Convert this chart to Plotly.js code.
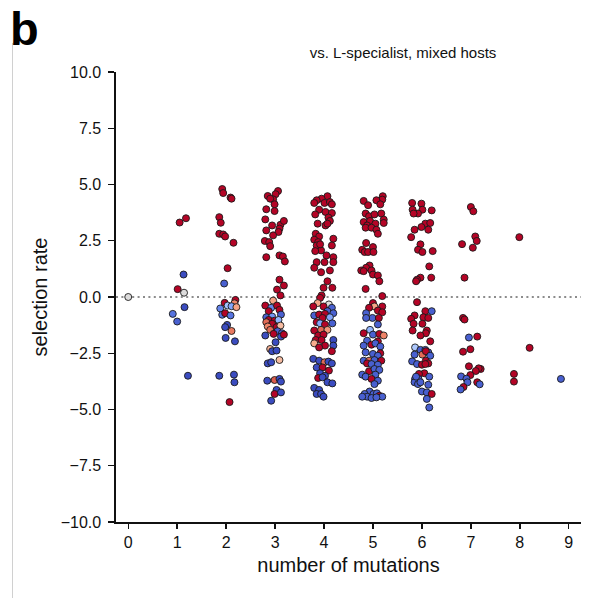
<!DOCTYPE html>
<html>
<head>
<meta charset="utf-8">
<script src="https://cdn.plot.ly/plotly-3.0.1.min.js"></script>
<style>html,body{margin:0;padding:0;background:#fff;}#chart{width:592px;height:598px;}</style>
</head>
<body>
<div id="chart"></div>
<script>
// Each point: [number of mutations (jittered as plotted), selection rate, colour value 0 (blue) .. 1 (red)]
const mut0 = [[0.00,0.00,0.5]];
const mut1 = [[1.05,3.31,1],[1.18,3.50,1],[1.13,1.00,0],[1.01,0.35,1],[1.14,0.19,0.5],[1.15,-0.45,0],[0.91,-0.75,0.1],[1.00,-1.09,0.05],[1.22,-3.50,0]];
const mut2 = [[1.92,4.80,1],[1.94,4.62,1],[2.09,4.42,1],[2.11,4.37,1],[1.86,3.55,1],[1.89,3.30,1],[1.86,2.81,1],[1.94,2.78,1],[1.98,2.69,1],[2.15,2.41,1],[2.03,1.28,1],[1.96,0.60,0.05],[2.19,-0.13,1],[1.97,-0.26,1],[2.17,-0.28,0.8],[2.03,-0.38,0.35],[2.11,-0.41,0.25],[2.21,-0.45,0.72],[1.88,-0.51,0.15],[1.92,-0.79,0.1],[1.98,-0.72,1],[2.09,-0.82,0.1],[2.02,-1.24,0],[1.98,-1.34,0],[2.11,-1.51,0.82],[1.99,-1.82,0],[2.18,-1.97,0],[1.86,-3.50,0],[2.16,-3.45,0],[2.17,-3.79,0],[2.07,-4.67,1]];
const mut3 = [[3.06,4.71,1],[3.01,4.57,1],[2.96,4.34,1],[2.85,4.49,1],[2.90,4.37,1],[2.99,4.12,1],[2.82,3.90,1],[2.99,3.82,1],[2.80,3.45,1],[2.94,3.18,1],[3.11,3.21,1],[3.18,3.38,1],[3.09,3.04,1],[3.07,2.89,1],[2.82,2.96,1],[2.96,2.74,1],[2.79,2.49,1],[2.88,2.44,1],[2.90,2.26,1],[2.82,1.77,1],[3.09,1.85,1],[3.16,1.80,1],[3.20,1.58,1],
  [3.09,0.77,1],[3.18,0.51,1],[3.04,0.33,1],[3.11,0.07,1],[2.96,-0.16,0.72],[2.80,-0.38,1],[2.92,-0.48,0.15],[3.04,-0.38,1],[2.87,-0.63,1],[3.09,-0.57,1],[2.82,-0.90,0.05],[2.94,-0.87,0.2],[3.12,-0.78,0.05],[2.87,-1.02,1],[2.99,-1.05,1],[2.82,-1.12,0.85],[3.07,-1.02,0.3],[2.94,-1.19,1],[2.85,-1.31,0.8],[3.03,-1.34,1],[3.11,-1.27,0.65],[2.90,-1.46,0.85],[3.05,-1.52,0.05],[2.97,-1.64,1],[3.14,-1.61,0.05],[2.80,-1.71,0],[3.12,-1.76,0],[3.18,-1.67,1],[3.01,-2.01,0],[2.90,-2.31,0.68],[2.94,-2.41,0],[3.03,-2.38,0],[3.09,-2.80,0.65],[2.85,-2.95,0],[2.92,-2.90,0],[2.84,-3.72,0],[2.99,-3.69,0.88],[3.09,-3.64,0],[3.12,-3.76,0],[3.03,-4.13,0],[2.99,-4.31,1],[3.12,-4.24,0],[2.92,-4.61,0]];
const mut4 = [[4.07,4.48,1],[3.95,4.37,1],[3.85,4.30,1],[3.80,4.18,1],[4.01,4.18,1],[4.12,4.22,1],[4.16,4.12,1],[3.90,3.88,1],[4.03,3.78,1],[4.16,3.73,1],[3.82,3.67,1],[4.09,3.53,1],[4.12,3.38,1],[3.87,3.26,1],[4.03,3.18,1],[4.07,3.26,1],[3.83,2.81,1],[3.90,2.69,1],[3.80,2.55,1],[3.88,2.44,1],[3.85,2.29,1],[3.94,2.07,1],[3.82,2.04,1],[3.92,2.34,1],[4.19,2.59,1],[4.16,2.29,1],[4.05,1.85,1],[4.19,1.77,1],[4.19,1.55,1],[4.01,1.55,1],[3.85,1.55,1],[3.80,1.30,1],[3.94,1.10,1],[4.12,1.18,1],
  [4.07,0.70,1],[3.99,0.41,1],[4.17,0.41,1],[3.95,0.07,1],[3.92,-0.04,1],[4.10,-0.33,0.5],[3.87,-0.27,0.72],[3.78,-0.42,1],[3.99,-0.42,1],[4.16,-0.48,0.05],[4.07,-0.63,0.05],[3.80,-0.82,0.05],[3.90,-0.78,1],[4.02,-0.75,1],[4.19,-0.72,0.05],[3.97,-0.93,1],[4.12,-0.90,0.25],[3.85,-1.12,1],[3.92,-1.17,0.25],[4.02,-1.22,1],[4.17,-1.17,0.05],[3.80,-1.49,1],[3.94,-1.46,0.85],[4.07,-1.46,0.75],[3.88,-1.71,1],[3.99,-1.67,1],[3.83,-1.91,1],[3.95,-1.91,1],[4.19,-1.91,0],[3.80,-2.06,0.7],[4.02,-2.16,1],[4.19,-2.16,0],[3.90,-2.24,1],[4.16,-2.41,1],[3.78,-2.75,0],[3.90,-2.83,0],[4.01,-2.90,0.85],[4.09,-2.87,0],[4.16,-2.95,0],[3.85,-3.13,0],[3.97,-3.13,1],[4.10,-3.27,1],[3.92,-3.39,0],[4.02,-3.50,0],[3.88,-3.60,1],[3.97,-3.57,0],[4.07,-3.79,0],[4.17,-3.84,0],[3.80,-4.04,0],[3.90,-4.13,0],[3.85,-4.31,0],[3.94,-4.31,0],[3.99,-4.43,0]];
const mut5 = [[5.20,4.48,1],[5.19,4.33,1],[5.07,4.30,1],[4.81,4.27,1],[4.90,4.08,1],[5.15,4.12,1],[4.85,3.71,1],[4.92,3.59,1],[5.03,3.67,1],[5.17,3.71,1],[4.81,3.33,1],[4.94,3.38,1],[5.05,3.26,1],[5.22,3.44,1],[5.22,3.29,1],[4.88,3.18,1],[4.85,3.08,1],[4.97,3.08,1],[5.07,2.99,1],[5.10,2.81,1],[4.86,2.40,1],[5.00,2.22,1],[4.78,2.10,1],[4.83,2.00,1],[4.90,2.00,1],[5.01,2.00,1],[4.93,1.40,1],[4.86,1.30,1],[4.76,1.18,1],[4.81,1.15,1],[4.97,1.18,1],[5.00,1.00,1],[5.10,0.96,1],[5.13,0.70,1],[4.85,0.36,1],[5.19,0.04,1],
  [5.00,-0.27,1],[5.03,-0.42,0.72],[4.92,-0.48,1],[5.19,-0.42,1],[5.10,-0.60,1],[4.86,-0.72,0.05],[5.19,-0.68,1],[4.99,-0.93,0.05],[4.86,-0.93,0.05],[5.12,-0.93,1],[5.10,-1.22,0.05],[4.94,-1.46,0.3],[4.81,-1.61,1],[5.00,-1.67,0.05],[5.13,-1.64,1],[5.22,-1.71,0.8],[4.88,-1.94,0.05],[5.10,-1.97,1],[4.97,-2.12,1],[4.81,-2.16,0.05],[5.05,-2.06,0.05],[5.15,-2.20,0.05],[4.85,-2.46,0.05],[5.00,-2.53,0.05],[5.15,-2.50,1],[5.10,-2.61,0.05],[4.81,-2.83,0.05],[4.92,-2.83,0.85],[5.03,-2.80,0.05],[5.17,-2.83,1],[4.88,-2.95,1],[4.97,-2.98,0.05],[5.10,-3.01,0.05],[4.92,-3.30,1],[5.03,-3.20,0.05],[5.13,-3.24,0.05],[4.78,-3.45,0.05],[4.85,-3.54,0.05],[5.05,-3.45,0.05],[4.97,-3.64,1],[5.10,-3.72,0.05],[5.03,-3.87,0.05],[4.93,-4.20,0.05],[4.83,-4.31,0.05],[4.88,-4.43,0.05],[5.01,-4.31,0.05],[5.08,-4.28,0.05],[5.13,-4.39,1],[4.78,-4.43,0.05],[5.19,-4.43,0.05],[4.97,-4.49,0.05],[5.07,-4.46,0.05]];
const mut6 = [[5.80,4.18,1],[5.99,4.15,1],[5.81,3.88,1],[6.01,3.88,1],[5.92,3.71,1],[5.83,3.71,1],[6.20,3.85,1],[6.07,3.26,1],[6.17,3.29,1],[5.99,3.11,1],[6.13,2.99,1],[5.85,2.99,1],[5.78,2.66,1],[5.97,2.34,1],[5.92,2.10,1],[6.01,2.00,1],[6.22,2.04,1],[6.15,1.36,1],[5.97,0.86,1],[5.90,0.77,1],[6.19,0.86,1],[5.88,0.70,1],
  [5.90,-0.23,1],[6.07,-0.63,1],[6.20,-0.63,0.05],[5.85,-0.82,1],[6.03,-0.90,1],[6.13,-0.93,1],[5.78,-0.97,1],[5.83,-1.19,1],[6.01,-1.19,1],[5.81,-1.49,1],[6.10,-1.49,1],[6.08,-1.61,1],[5.97,-1.71,1],[6.17,-1.97,1],[5.86,-2.24,0.38],[5.97,-2.35,0.05],[6.07,-2.35,0.05],[5.85,-2.56,0.05],[6.01,-2.56,0.85],[6.13,-2.46,0.05],[6.08,-2.41,1],[6.17,-2.61,0.05],[5.80,-2.86,0.05],[5.90,-2.98,0.05],[6.00,-3.01,1],[6.08,-2.83,1],[6.13,-2.95,1],[6.07,-2.98,1],[6.05,-3.39,1],[5.94,-3.42,1],[6.15,-3.54,0.05],[5.86,-3.64,0.05],[5.93,-3.64,0.05],[5.85,-3.79,0.05],[5.92,-3.87,0.05],[5.97,-3.79,0.05],[5.88,-3.54,0.05],[6.13,-3.90,0.05],[6.00,-4.20,0.05],[6.10,-4.24,0.05],[6.20,-4.31,1],[6.10,-4.53,0.05],[6.15,-4.91,0.05]];
const mut7 = [[7.00,4.00,1],[7.05,3.81,1],[7.09,2.69,1],[7.12,2.49,1],[6.82,2.35,1],[7.04,2.19,1],[6.87,0.86,1],[6.84,-0.93,1],[6.87,-1.00,1],[6.96,-1.80,0.05],[7.13,-1.76,1],[6.99,-2.32,1],[6.84,-2.43,1],[6.96,-3.08,1],[7.20,-3.20,1],[7.16,-3.17,1],[7.10,-3.29,1],[6.99,-3.47,1],[6.80,-3.53,0.05],[6.91,-3.63,0.05],[6.93,-3.79,0.05],[7.13,-3.79,1],[7.18,-3.88,0.05],[6.85,-4.00,1],[6.79,-4.11,0.05]];
const mut8 = [[7.99,2.66,1],[8.20,-2.26,1],[7.88,-3.42,1],[7.88,-3.76,1]];
const mut9 = [[8.84,-3.64,0.05]];

const groups = [mut0, mut1, mut2, mut3, mut4, mut5, mut6, mut7, mut8, mut9];
const xTicks = [0,1,2,3,4,5,6,7,8,9];
const yTicks = [-10,-7.5,-5,-2.5,0,2.5,5,7.5,10];
const panelLabel = 'b';
const panelTitle = 'vs. L-specialist, mixed hosts';
const xLabel = 'number of mutations';
const yLabel = 'selection rate';

const coolwarm = [[0,'#3b4cc0'],[0.1,'#5673e0'],[0.2,'#7396f5'],[0.3,'#93b5fe'],[0.4,'#b3cdfb'],[0.5,'#dddcdc'],[0.6,'#f2c9b4'],[0.7,'#f7ac8e'],[0.8,'#ee8468'],[0.9,'#d65244'],[1,'#b40426']];

const pts = groups.flat();
const FONT = 'Liberation Sans, Arial, sans-serif';

const traces = [
  {
    type: 'scatter', mode: 'lines', x: [-0.25, 9.25], y: [0, 0], hoverinfo: 'skip',
    line: {color: '#8c8c8c', width: 2, dash: '2px,3.4px'}, showlegend: false
  },
  {
    type: 'scatter', mode: 'markers',
    x: pts.map(p => p[0]), y: pts.map(p => p[1]),
    marker: {size: 7, color: pts.map(p => p[2]), colorscale: coolwarm, cmin: 0, cmax: 1, showscale: false,
             line: {color: '#1a1a1a', width: 0.9}},
    showlegend: false
  }
];

const layout = {
  width: 592, height: 598,
  margin: {l: 116, r: 11, t: 72, b: 76},
  paper_bgcolor: '#fff', plot_bgcolor: '#fff',
  font: {family: FONT, color: '#111', size: 15},
  showlegend: false,
  title: {text: panelTitle, x: 403/592, xanchor: 'center', y: 1 - 53/598, yanchor: 'middle', font: {size: 15, family: FONT, color: '#111'}},
  xaxis: {
    range: [-0.25, 9.25], tickvals: xTicks, ticktext: xTicks.map(String),
    showgrid: false, zeroline: false, showline: true, linecolor: '#111', linewidth: 1.6,
    ticks: 'outside', ticklen: 5, tickwidth: 1.4, tickcolor: '#111',
    tickfont: {size: 16, family: FONT, color: '#111'},
    title: {text: xLabel, font: {size: 20, family: FONT, color: '#111'}, standoff: 8}
  },
  yaxis: {
    range: [-10, 10], tickvals: yTicks, tickformat: '.1f',
    showgrid: false, zeroline: false, showline: true, linecolor: '#111', linewidth: 1.6,
    ticks: 'outside', ticklen: 6, tickwidth: 1.4, tickcolor: '#111', ticklabelstandoff: 4,
    tickfont: {size: 16, family: FONT, color: '#111'},
    title: {text: yLabel, font: {size: 20, family: FONT, color: '#111'}, standoff: 8}
  },
  annotations: [
    {text: '<b>' + panelLabel + '</b>', xref: 'paper', yref: 'paper', x: (8 - 116)/465, y: (522 - 28)/450,
     xanchor: 'left', yanchor: 'middle', showarrow: false, font: {size: 47, family: FONT, color: '#000'}}
  ],
  shapes: [
    {type: 'line', xref: 'paper', yref: 'paper', x0: (12.5 - 116)/465, x1: (12.5 - 116)/465, y0: (522 - 598)/450, y1: (522 - 43)/450,
     line: {color: '#d0d0d0', width: 1}}
  ]
};

Plotly.newPlot('chart', traces, layout, {displayModeBar: false, staticPlot: true});
</script>
</body>
</html>
